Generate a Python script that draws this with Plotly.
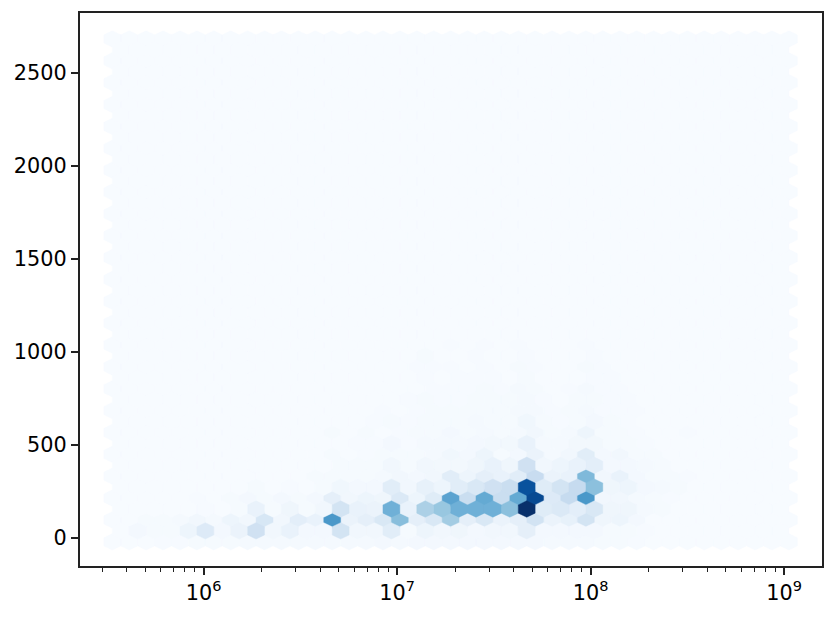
import math
import plotly.graph_objects as go
from plotly.colors import sample_colorscale, sequential

# Hex grid (x in log10)
LOG_X0 = 5.528; LOG_DX = 0.08742
Y0 = -20.0; DY = 117.5
HALF_H = 44.3
N_COLS_LONG, N_ROWS_LONG = 41, 24
N_COLS_SHORT, N_ROWS_SHORT = 40, 23
MAX_COUNT = 100.0

# Cell counts by lattice row: {column: count}; unlisted cells are empty
long_rows = {
    0: {3:.7,4:.7,5:1,6:1,7:1,8:1.5,9:1.5,10:1.5,11:1.5,12:1.5,13:1.5,14:1.5,15:1.5,16:2,17:1.5,18:2,19:2,20:2,21:2,22:2,23:2,24:2,25:2,26:1.5,27:1.5,28:1.5,29:1,30:1,31:.7},
    1: {2:1,3:1,4:1.5,5:3,6:1.5,7:5,8:3,9:16,10:3,11:10,12:7,13:60,14:6,15:9,16:15,17:43,18:9,19:15,20:36,21:9,22:15,23:6,24:9,25:19,26:6,27:8,28:18,29:4,30:5,31:2},
    2: {5:.7,7:1,8:2,9:1,10:2,11:1,12:2,13:9,14:3,15:5,16:4,17:14,18:5,19:12,20:55,21:23,22:52,23:23,24:52,25:90,26:13,27:25,28:60,29:3,30:3,31:1.5,32:1,33:.7},
    3: {12:1,13:1,14:1,15:1,16:1.5,17:3,18:2,19:3,20:11,21:5,22:9,23:7,24:11,25:24,26:6,27:7,28:45,29:3,30:7,31:2,32:1,33:1,34:.7},
    4: {13:1,15:.7,16:1,17:1,18:1,19:1.5,20:3.5,21:2,22:5,23:1,24:2,25:6,26:1.5,27:3,28:11,29:2,30:3,31:1,32:1},
    5: {13:1,15:1,17:.7,18:1,19:1,20:2,21:1,22:1.5,23:1,24:1.5,25:3,26:1,27:1.5,28:5,29:1,30:1,31:.7,34:.7},
    6: {16:.7,18:.7,19:1,20:1,21:1,22:1,23:1,24:1.5,25:1.5,26:.7,27:1,28:1.5,29:.7,30:.7,31:.7},
    7: {19:.7,20:.7,21:.7,22:1,23:.7,24:1.5,25:1,27:.7,28:1.5,29:.7,30:.7},
    8: {18:.5,19:.7,20:.5,22:.7,24:1,25:.7,28:1,29:.5},
    9: {20:.5,22:.5,24:.7,28:.5},
}
short_rows = {
    0: {1:2,2:1,3:1,4:5,5:13,6:2,7:6,8:20,9:3,10:7,11:2,12:2,13:18,14:3,15:3,16:11,17:1,18:5,19:3,20:4,21:2,22:3,23:3,24:9,25:2,26:2,27:2,28:2,29:1,30:1,31:.7},
    1: {5:.5,7:1,8:7,9:1,10:4,11:1,12:3,13:18,14:7,15:6,16:49,17:7,18:33,19:39,20:49,21:49,22:49,23:42,24:100,25:12,26:14,27:10,28:15,29:4,30:4,31:1.5,32:1},
    2: {8:1,10:.7,12:1,13:3.5,14:2,15:2,16:11,17:3,18:8,19:5,20:11,21:15,22:20,23:23,24:87,25:12,26:18,27:25,28:42,29:4,30:5,31:2,32:1.5,33:1},
    3: {13:1,14:1,15:1,16:3,17:1,18:3,19:2.5,20:2.5,21:4,22:7,23:4,24:20,25:3,26:5,27:7,28:10,29:2,30:2,31:1.5,32:1},
    4: {14:.7,15:.7,16:2,17:.7,18:1.5,19:1.5,20:1.5,21:2,22:2.5,23:2.5,24:7,25:1.5,26:1.5,27:2.5,28:2.5,29:1,30:1,31:.7},
    5: {15:.7,16:1,17:.7,18:1,19:1,20:1,21:1.5,22:1,23:1,24:3.5,25:1,26:.7,27:1,28:2,29:1,30:.7},
    6: {17:.5,18:1,19:.7,20:.7,21:1,22:1,23:1,24:1.5,25:.7,27:1,28:1,29:.7,30:.5},
    7: {18:.7,20:.5,21:.7,22:.7,24:1,28:.7,29:.5},
    8: {18:1,21:.5,24:.7,28:.5},
}

TICK_EXPONENTS = [6, 7, 8, 9]
MINOR_BASES = [2, 3, 4, 5, 6, 7, 8, 9]
MINOR_DECADES = [5, 6, 7, 8]
Y_TICKS = [0, 500, 1000, 1500, 2000, 2500]
X_RANGE = [5.361, 9.196]
Y_RANGE = [-150, 2822]


def hex_path(log_x, y):
    hw = LOG_DX / 2
    vx = [log_x + hw, log_x + hw, log_x, log_x - hw, log_x - hw, log_x, log_x + hw]
    vy = [y - HALF_H / 2, y + HALF_H / 2, y + HALF_H, y + HALF_H / 2, y - HALF_H / 2, y - HALF_H, y - HALF_H / 2]
    return [10 ** v for v in vx] + [None], vy + [None]


def add_lattice(fig, table, n_cols, n_rows, x_shift, y_shift):
    groups = {}
    for r in range(n_rows):
        row = table.get(r, {})
        for c in range(n_cols):
            groups.setdefault(row.get(c, 0), []).append((c, r))
    for value, cells in sorted(groups.items()):
        colour = sample_colorscale(sequential.Blues, [value / MAX_COUNT])[0]
        xs, ys = [], []
        for c, r in cells:
            px, py = hex_path(LOG_X0 + x_shift + c * LOG_DX, Y0 + y_shift + r * DY)
            xs += px
            ys += py
        fig.add_trace(go.Scatter(x=xs, y=ys, mode="lines", fill="toself", fillcolor=colour,
                                 line=dict(color=colour, width=0.4), hoverinfo="skip", showlegend=False))


fig = go.Figure()
add_lattice(fig, long_rows, N_COLS_LONG, N_ROWS_LONG, 0, 0)
add_lattice(fig, short_rows, N_COLS_SHORT, N_ROWS_SHORT, LOG_DX / 2, DY / 2)

minor_vals = [b * 10 ** d for d in MINOR_DECADES for b in MINOR_BASES
              if X_RANGE[0] < d + math.log10(b) < X_RANGE[1]]
fig.update_layout(
    width=835, height=618, margin=dict(l=80, r=11, t=12, b=52), autosize=False,
    paper_bgcolor="white", plot_bgcolor="white", showlegend=False,
    font=dict(family="DejaVu Sans", size=20.8, color="black"),
    xaxis=dict(type="log", range=X_RANGE, showgrid=False, zeroline=False, showline=True, mirror=True,
               linecolor="#222", linewidth=1.67, ticks="outside", ticklen=7.3, tickwidth=1.67, tickcolor="#222",
               tickmode="array", tickvals=[10 ** e for e in TICK_EXPONENTS],
               ticktext=[f"10<sup>{e}</sup>" for e in TICK_EXPONENTS],
               minor=dict(tickmode="array", tickvals=minor_vals, ticks="outside", ticklen=4.2, tickwidth=1.25,
                          tickcolor="#222", showgrid=False)),
    yaxis=dict(range=Y_RANGE, showgrid=False, zeroline=False, showline=True, mirror=True,
               linecolor="#222", linewidth=1.67, ticks="outside", ticklen=7.3, tickwidth=1.67, tickcolor="#222",
               tickmode="array", tickvals=Y_TICKS),
)
fig.write_html("out.html", config={"displayModeBar": False}, post_script="document.body.style.margin='0';")
